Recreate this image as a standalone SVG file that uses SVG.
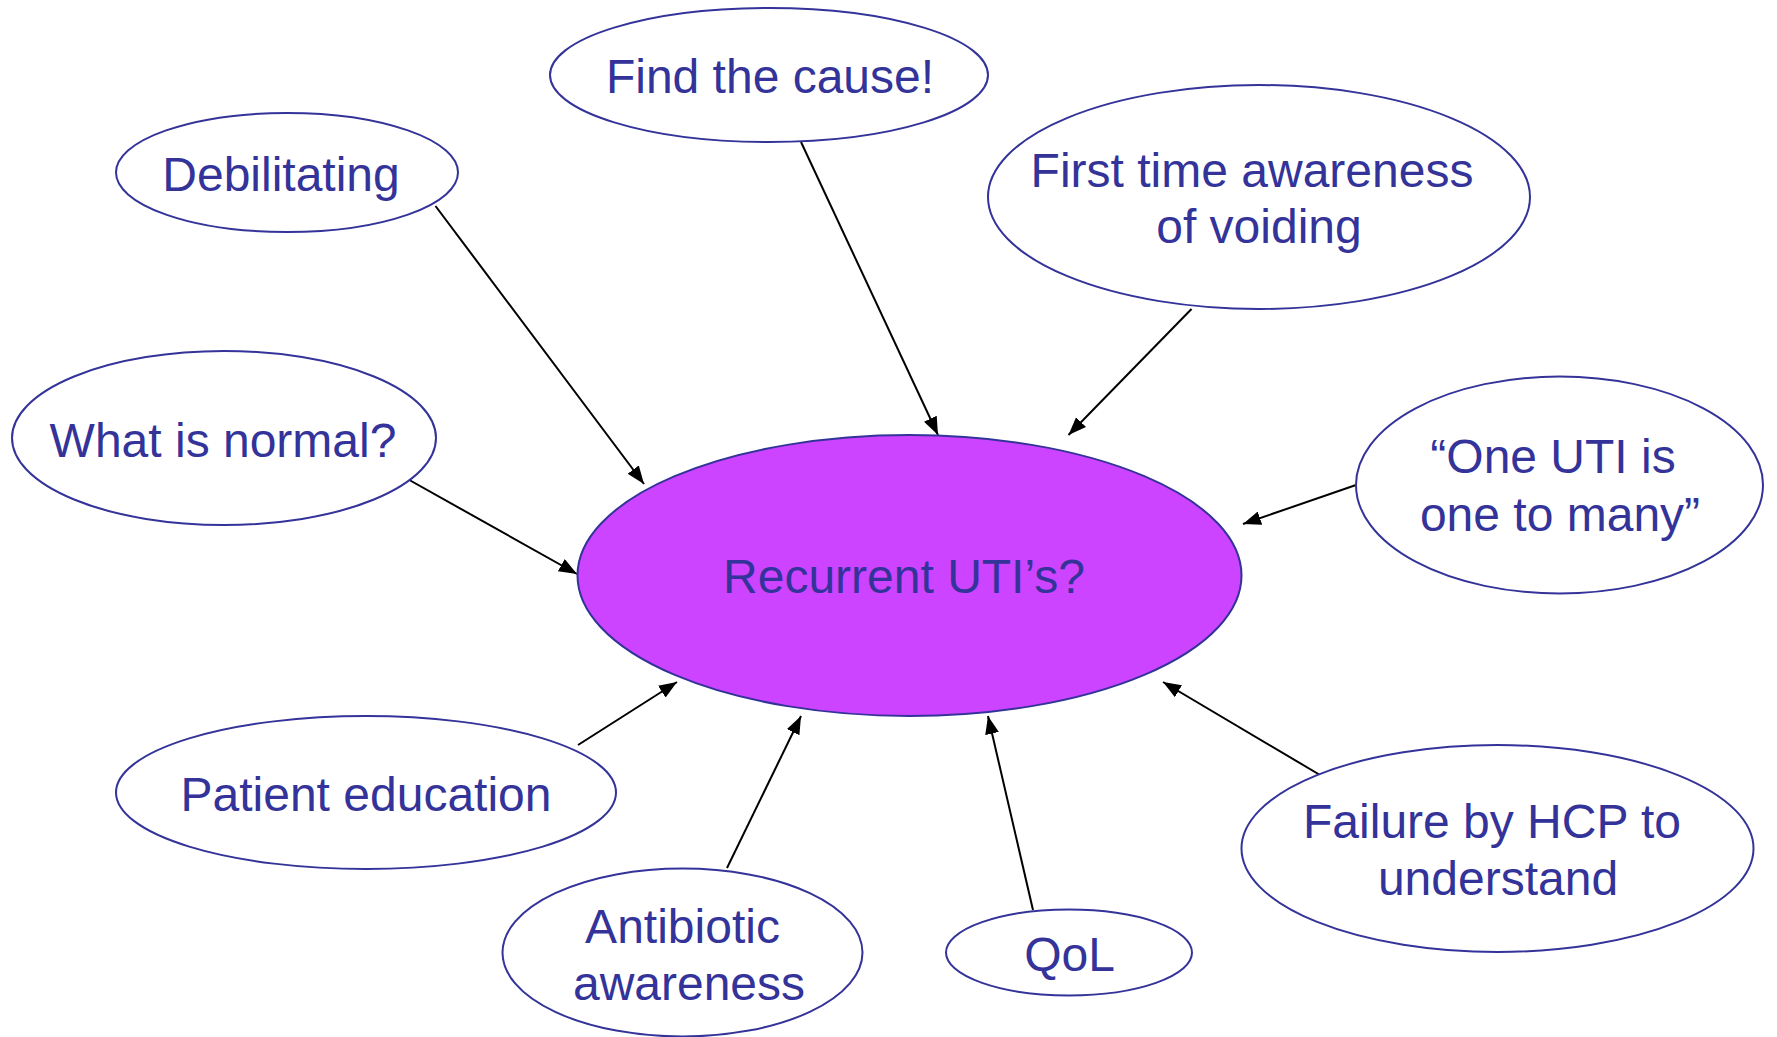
<svg xmlns="http://www.w3.org/2000/svg" width="1777" height="1037" viewBox="0 0 1777 1037">
<style>
.node{fill:#ffffff;stroke:#333399;stroke-width:2}
.hub{fill:#cc44ff;stroke:#333399;stroke-width:2}
.lbl{font-family:"Liberation Sans",Arial,sans-serif;font-size:48px;fill:#333399;text-anchor:middle}
.edge{stroke:#000000;stroke-width:2;fill:none;marker-end:url(#arrow)}
</style>
<defs>
<marker id="arrow" viewBox="0 0 18 14" refX="18" refY="7" markerWidth="18" markerHeight="14" markerUnits="userSpaceOnUse" orient="auto">
<path d="M0,0 L18,7 L0,14 z" fill="#000000"/>
</marker>
</defs>
<rect x="0" y="0" width="1777" height="1037" fill="#ffffff"/>
<g id="connectors">
<line class="edge" x1="435.5" y1="206" x2="644" y2="484"/>
<line class="edge" x1="404" y1="477" x2="577" y2="574"/>
<line class="edge" x1="801" y1="142" x2="938" y2="435"/>
<line class="edge" x1="1191.5" y1="309" x2="1068.5" y2="435"/>
<line class="edge" x1="1356" y1="485" x2="1243" y2="524"/>
<line class="edge" x1="578" y1="745" x2="677" y2="682"/>
<line class="edge" x1="727" y1="868" x2="801" y2="716"/>
<line class="edge" x1="1033" y1="910" x2="988" y2="716"/>
<line class="edge" x1="1320" y1="775" x2="1163" y2="682"/>
</g>
<g id="node-center">
<ellipse class="hub" cx="909.5" cy="575.5" rx="332" ry="140.5"/>
<text class="lbl" x="904" y="593">Recurrent UTI’s?</text>
</g>
<g id="node-find-cause">
<ellipse class="node" cx="769" cy="75" rx="219" ry="67"/>
<text class="lbl" x="770" y="93">Find the cause!</text>
</g>
<g id="node-debilitating">
<ellipse class="node" cx="287" cy="172.5" rx="171" ry="59.5"/>
<text class="lbl" x="281" y="191">Debilitating</text>
</g>
<g id="node-what-normal">
<ellipse class="node" cx="224" cy="438" rx="212" ry="87"/>
<text class="lbl" x="223" y="457">What is normal?</text>
</g>
<g id="node-first-time">
<ellipse class="node" cx="1259" cy="197" rx="271" ry="112"/>
<text class="lbl" x="1252" y="187">First time awareness</text>
<text class="lbl" x="1259" y="243">of voiding</text>
</g>
<g id="node-one-uti">
<ellipse class="node" cx="1559.5" cy="485" rx="203.5" ry="108.5"/>
<text class="lbl" x="1553" y="473">“One UTI is</text>
<text class="lbl" x="1560" y="531">one to many”</text>
</g>
<g id="node-patient-education">
<ellipse class="node" cx="366" cy="792.5" rx="250" ry="76.5"/>
<text class="lbl" x="366" y="811">Patient education</text>
</g>
<g id="node-antibiotic">
<ellipse class="node" cx="682.5" cy="952.5" rx="180" ry="84"/>
<text class="lbl" x="682.5" y="943">Antibiotic</text>
<text class="lbl" x="689" y="1000">awareness</text>
</g>
<g id="node-qol">
<ellipse class="node" cx="1069" cy="952.5" rx="123" ry="43"/>
<text class="lbl" x="1069.5" y="971">QoL</text>
</g>
<g id="node-failure">
<ellipse class="node" cx="1497.5" cy="848.5" rx="256" ry="103.5"/>
<text class="lbl" x="1492" y="838">Failure by HCP to</text>
<text class="lbl" x="1498" y="895">understand</text>
</g>
</svg>
